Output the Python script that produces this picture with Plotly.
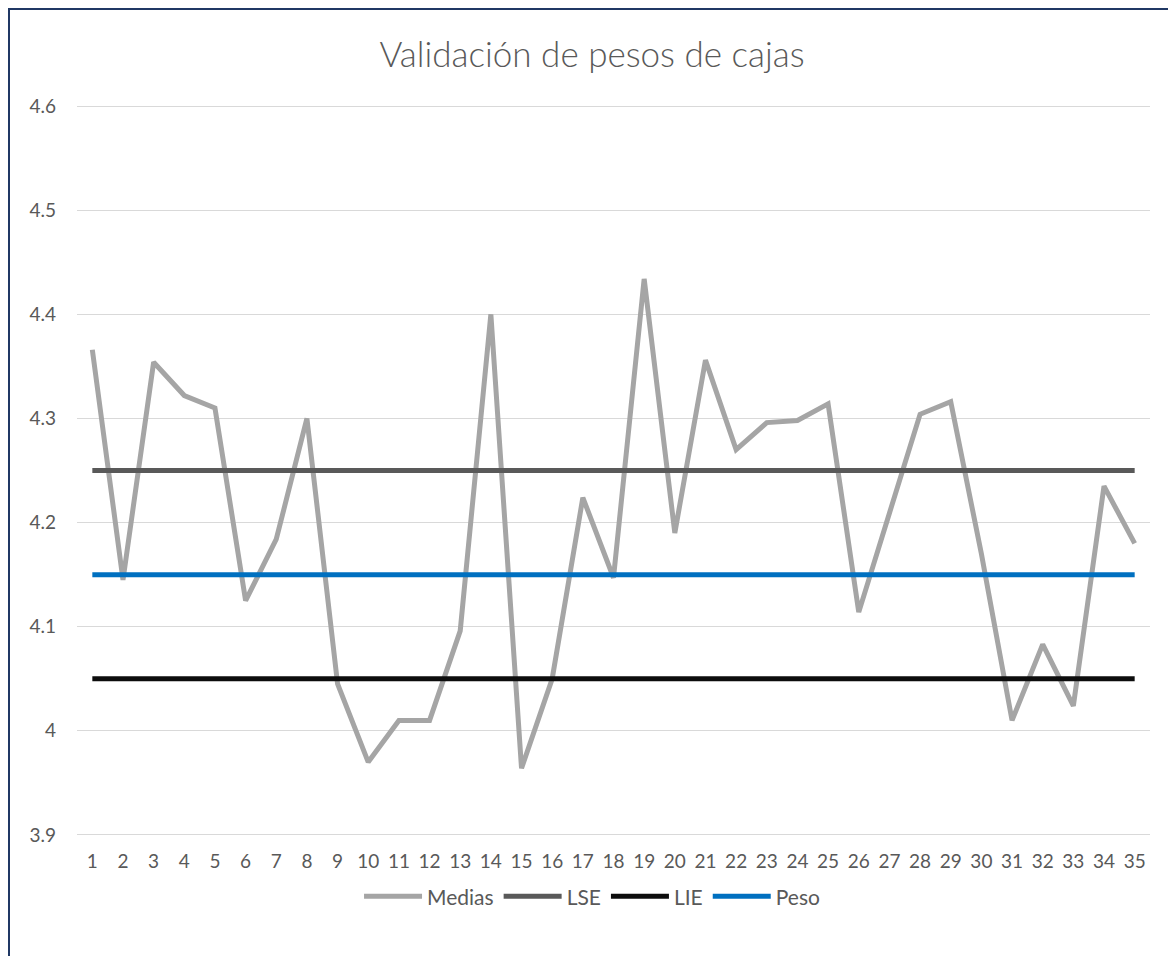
import plotly.graph_objects as go

# Datos
muestras = list(range(1, 36))
medias = [4.366, 4.145, 4.354, 4.322, 4.310, 4.125, 4.184, 4.300, 4.045, 3.970,
          4.010, 4.010, 4.096, 4.400, 3.964, 4.050, 4.224, 4.147, 4.434, 4.190,
          4.356, 4.270, 4.296, 4.298, 4.314, 4.114, 4.209, 4.304, 4.316, 4.170,
          4.010, 4.083, 4.024, 4.235, 4.180]
lse = [4.25] * 35
lie = [4.05] * 35
peso = [4.15] * 35

y_ticks = [3.9, 4.0, 4.1, 4.2, 4.3, 4.4, 4.5, 4.6]
y_labels = ["3.9", "4", "4.1", "4.2", "4.3", "4.4", "4.5", "4.6"]

FONT = "Lato"
TEXT = "#595959"

# the page body adds an 8px offset, so the figure is a bit smaller
W, H = 1168, 948

fig = go.Figure()

series = [
    ("Medias", medias, "#A5A5A5"),
    ("LSE", lse, "#595959"),
    ("LIE", lie, "#0D0D0D"),
    ("Peso", peso, "#0070C0"),
]
for name, values, color in series:
    fig.add_trace(
        go.Scatter(
            x=muestras,
            y=values,
            mode="lines",
            name=name,
            line=dict(color=color, width=5),
            hoverinfo="skip",
        )
    )

fig.update_layout(
    width=W,
    height=H,
    margin=dict(l=69, r=26, t=97, b=120),
    plot_bgcolor="white",
    paper_bgcolor="white",
    font=dict(family=FONT, size=19, color=TEXT),
    title=dict(
        text="Validación de pesos de cajas",
        x=0.5,
        xanchor="center",
        xref="container",
        y=1 - 47 / H,
        yanchor="middle",
        font=dict(family=FONT, size=35, color=TEXT, weight=300),
    ),
    xaxis=dict(
        range=[0.5, 35.5],
        tickmode="array",
        tickvals=muestras,
        ticktext=[str(m) for m in muestras],
        showgrid=False,
        zeroline=False,
        showline=False,
        ticks="",
        ticklabelstandoff=12,
        tickfont=dict(family=FONT, size=19, color=TEXT),
    ),
    yaxis=dict(
        range=[3.899, 4.601],
        tickmode="array",
        tickvals=y_ticks,
        ticktext=y_labels,
        showgrid=True,
        gridcolor="#D9D9D9",
        gridwidth=1,
        zeroline=False,
        showline=False,
        ticks="",
        ticklabelstandoff=20,
        tickfont=dict(family=FONT, size=19, color=TEXT),
    ),
    showlegend=True,
    legend=dict(
        orientation="h",
        x=0.48,
        xanchor="center",
        y=-0.083,
        yanchor="middle",
        itemwidth=58,
        font=dict(family=FONT, size=21, color=TEXT),
        itemclick=False,
    ),
    shapes=[
        dict(
            type="rect",
            xref="paper",
            yref="paper",
            x0=-68 / 1073,
            x1=1.3,
            y0=-0.4,
            y1=(828 - 1) / 731,
            line=dict(color="#203864", width=2),
            layer="below",
        )
    ],
)

fig.write_html("out.html")
